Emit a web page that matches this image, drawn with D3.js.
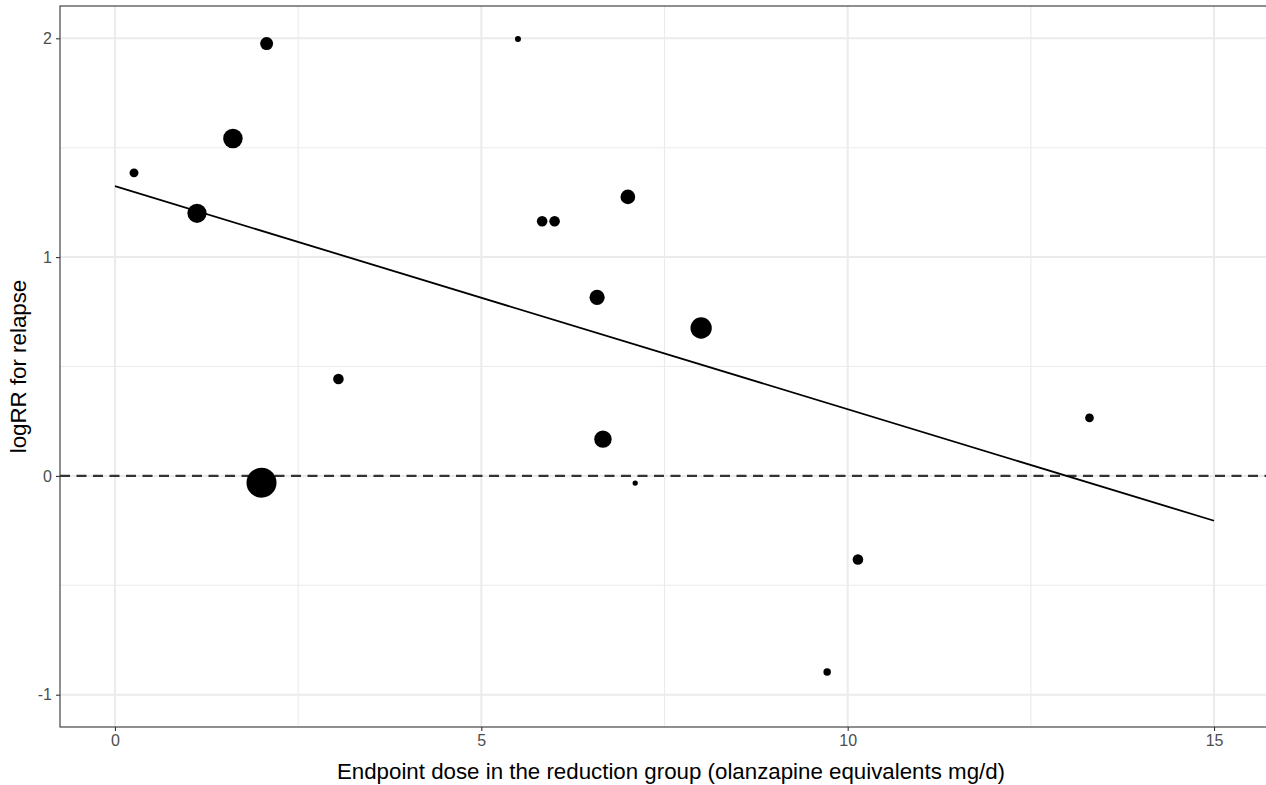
<!DOCTYPE html>
<html>
<head>
<meta charset="utf-8">
<script src="https://cdn.jsdelivr.net/npm/d3@7"></script>
<style>
  body { margin: 0; background: #fff; }
  text { font-family: "Liberation Sans", Arial, sans-serif; }
</style>
</head>
<body>
<div id="my_dataviz"></div>
<script>
// data
const dose = [0.26, 1.12, 1.61, 2.07, 2.0, 3.05, 5.5, 5.83, 6.0, 7.0, 6.58, 8.0, 6.66, 7.1, 10.14, 9.72, 13.3];
const logRR = [1.385, 1.2, 1.542, 1.976, -0.031, 0.443, 1.997, 1.164, 1.164, 1.275, 0.816, 0.676, 0.168, -0.033, -0.382, -0.896, 0.265];
const weight = [20, 92, 95, 42, 225, 28, 9, 28, 28, 54, 58, 114, 76, 7, 28, 14, 19];
const fitDose = [0, 15];
const fitLogRR = [1.324, -0.205];
const xTicks = [0, 5, 10, 15];
const yTicks = [-1, 0, 1, 2];
const xMinor = [2.5, 7.5, 12.5];
const yMinor = [-0.5, 0.5, 1.5];

const points = dose.map((d, i) => ({x: d, y: logRR[i], w: weight[i]}));

// set the dimensions and margins of the graph
const W = 1266, H = 785;
const margin = {top: 6, right: -3, bottom: 58, left: 60},
      width = W - margin.left - margin.right,
      height = H - margin.top - margin.bottom;

const svg = d3.select("#my_dataviz")
  .append("svg")
  .attr("width", W)
  .attr("height", H)
  .append("g")
  .attr("transform", `translate(${margin.left}, ${margin.top})`);

const x = d3.scaleLinear().domain([-0.75, 15.75]).range([0, width]);
const y = d3.scaleLinear().domain([-1.1476, 2.1476]).range([height, 0]);
const r = d3.scaleSqrt().domain([0, 225]).range([0, 15]);

// grid
const grid = svg.append("g");
grid.selectAll(".ymin").data(yMinor).join("line")
  .attr("x1", 0).attr("x2", width)
  .attr("y1", d => y(d)).attr("y2", d => y(d))
  .style("stroke", "#ebebeb").style("stroke-width", 1.1);
grid.selectAll(".xmin").data(xMinor).join("line")
  .attr("y1", 0).attr("y2", height)
  .attr("x1", d => x(d)).attr("x2", d => x(d))
  .style("stroke", "#ebebeb").style("stroke-width", 1.1);
grid.selectAll(".ymaj").data(yTicks).join("line")
  .attr("x1", 0).attr("x2", width)
  .attr("y1", d => y(d)).attr("y2", d => y(d))
  .style("stroke", "#ebebeb").style("stroke-width", 2);
grid.selectAll(".xmaj").data(xTicks).join("line")
  .attr("y1", 0).attr("y2", height)
  .attr("x1", d => x(d)).attr("x2", d => x(d))
  .style("stroke", "#ebebeb").style("stroke-width", 2);

// dashed reference line at zero
svg.append("line")
  .attr("x1", 0).attr("x2", width)
  .attr("y1", y(0)).attr("y2", y(0))
  .style("stroke", "#333")
  .style("stroke-width", 2.2)
  .style("stroke-dasharray", "10,6.5");

// regression line
svg.append("path")
  .datum(fitDose.map((d, i) => [d, fitLogRR[i]]))
  .attr("d", d3.line().x(d => x(d[0])).y(d => y(d[1])))
  .style("fill", "none")
  .style("stroke", "#000")
  .style("stroke-width", 1.8);

// dots
svg.append("g")
  .selectAll("circle")
  .data(points)
  .join("circle")
    .attr("cx", d => x(d.x))
    .attr("cy", d => y(d.y))
    .attr("r", d => r(d.w))
    .style("fill", "#000");

// panel border
svg.append("rect")
  .attr("x", 0).attr("y", 0)
  .attr("width", width).attr("height", height)
  .style("fill", "none")
  .style("stroke", "#333")
  .style("stroke-width", 1.1);

// axes
const xAxis = svg.append("g")
  .attr("transform", `translate(0, ${height})`)
  .call(d3.axisBottom(x).tickValues(xTicks).tickSize(4).tickPadding(4).tickFormat(d => String(d)));
const yAxis = svg.append("g")
  .call(d3.axisLeft(y).tickValues(yTicks).tickSize(4).tickPadding(4).tickFormat(d => String(d)));
[xAxis, yAxis].forEach(a => {
  a.select(".domain").remove();
  a.selectAll(".tick line").style("stroke", "#333").style("stroke-width", 1.1);
  a.selectAll(".tick text").style("fill", "#4d4d4d").style("font-size", "16px")
    .style("font-family", "Liberation Sans, Arial, sans-serif");
});

// axis labels
svg.append("text")
  .attr("text-anchor", "middle")
  .attr("x", (W - margin.left) / 2 + 8)
  .attr("y", height + 52)
  .style("font-size", "22.3px")
  .style("fill", "#000")
  .text("Endpoint dose in the reduction group (olanzapine equivalents mg/d)");

svg.append("text")
  .attr("text-anchor", "middle")
  .attr("transform", "rotate(-90)")
  .attr("x", -height / 2)
  .attr("y", -34)
  .style("font-size", "22.3px")
  .style("fill", "#000")
  .text("logRR for relapse");
</script>
</body>
</html>
